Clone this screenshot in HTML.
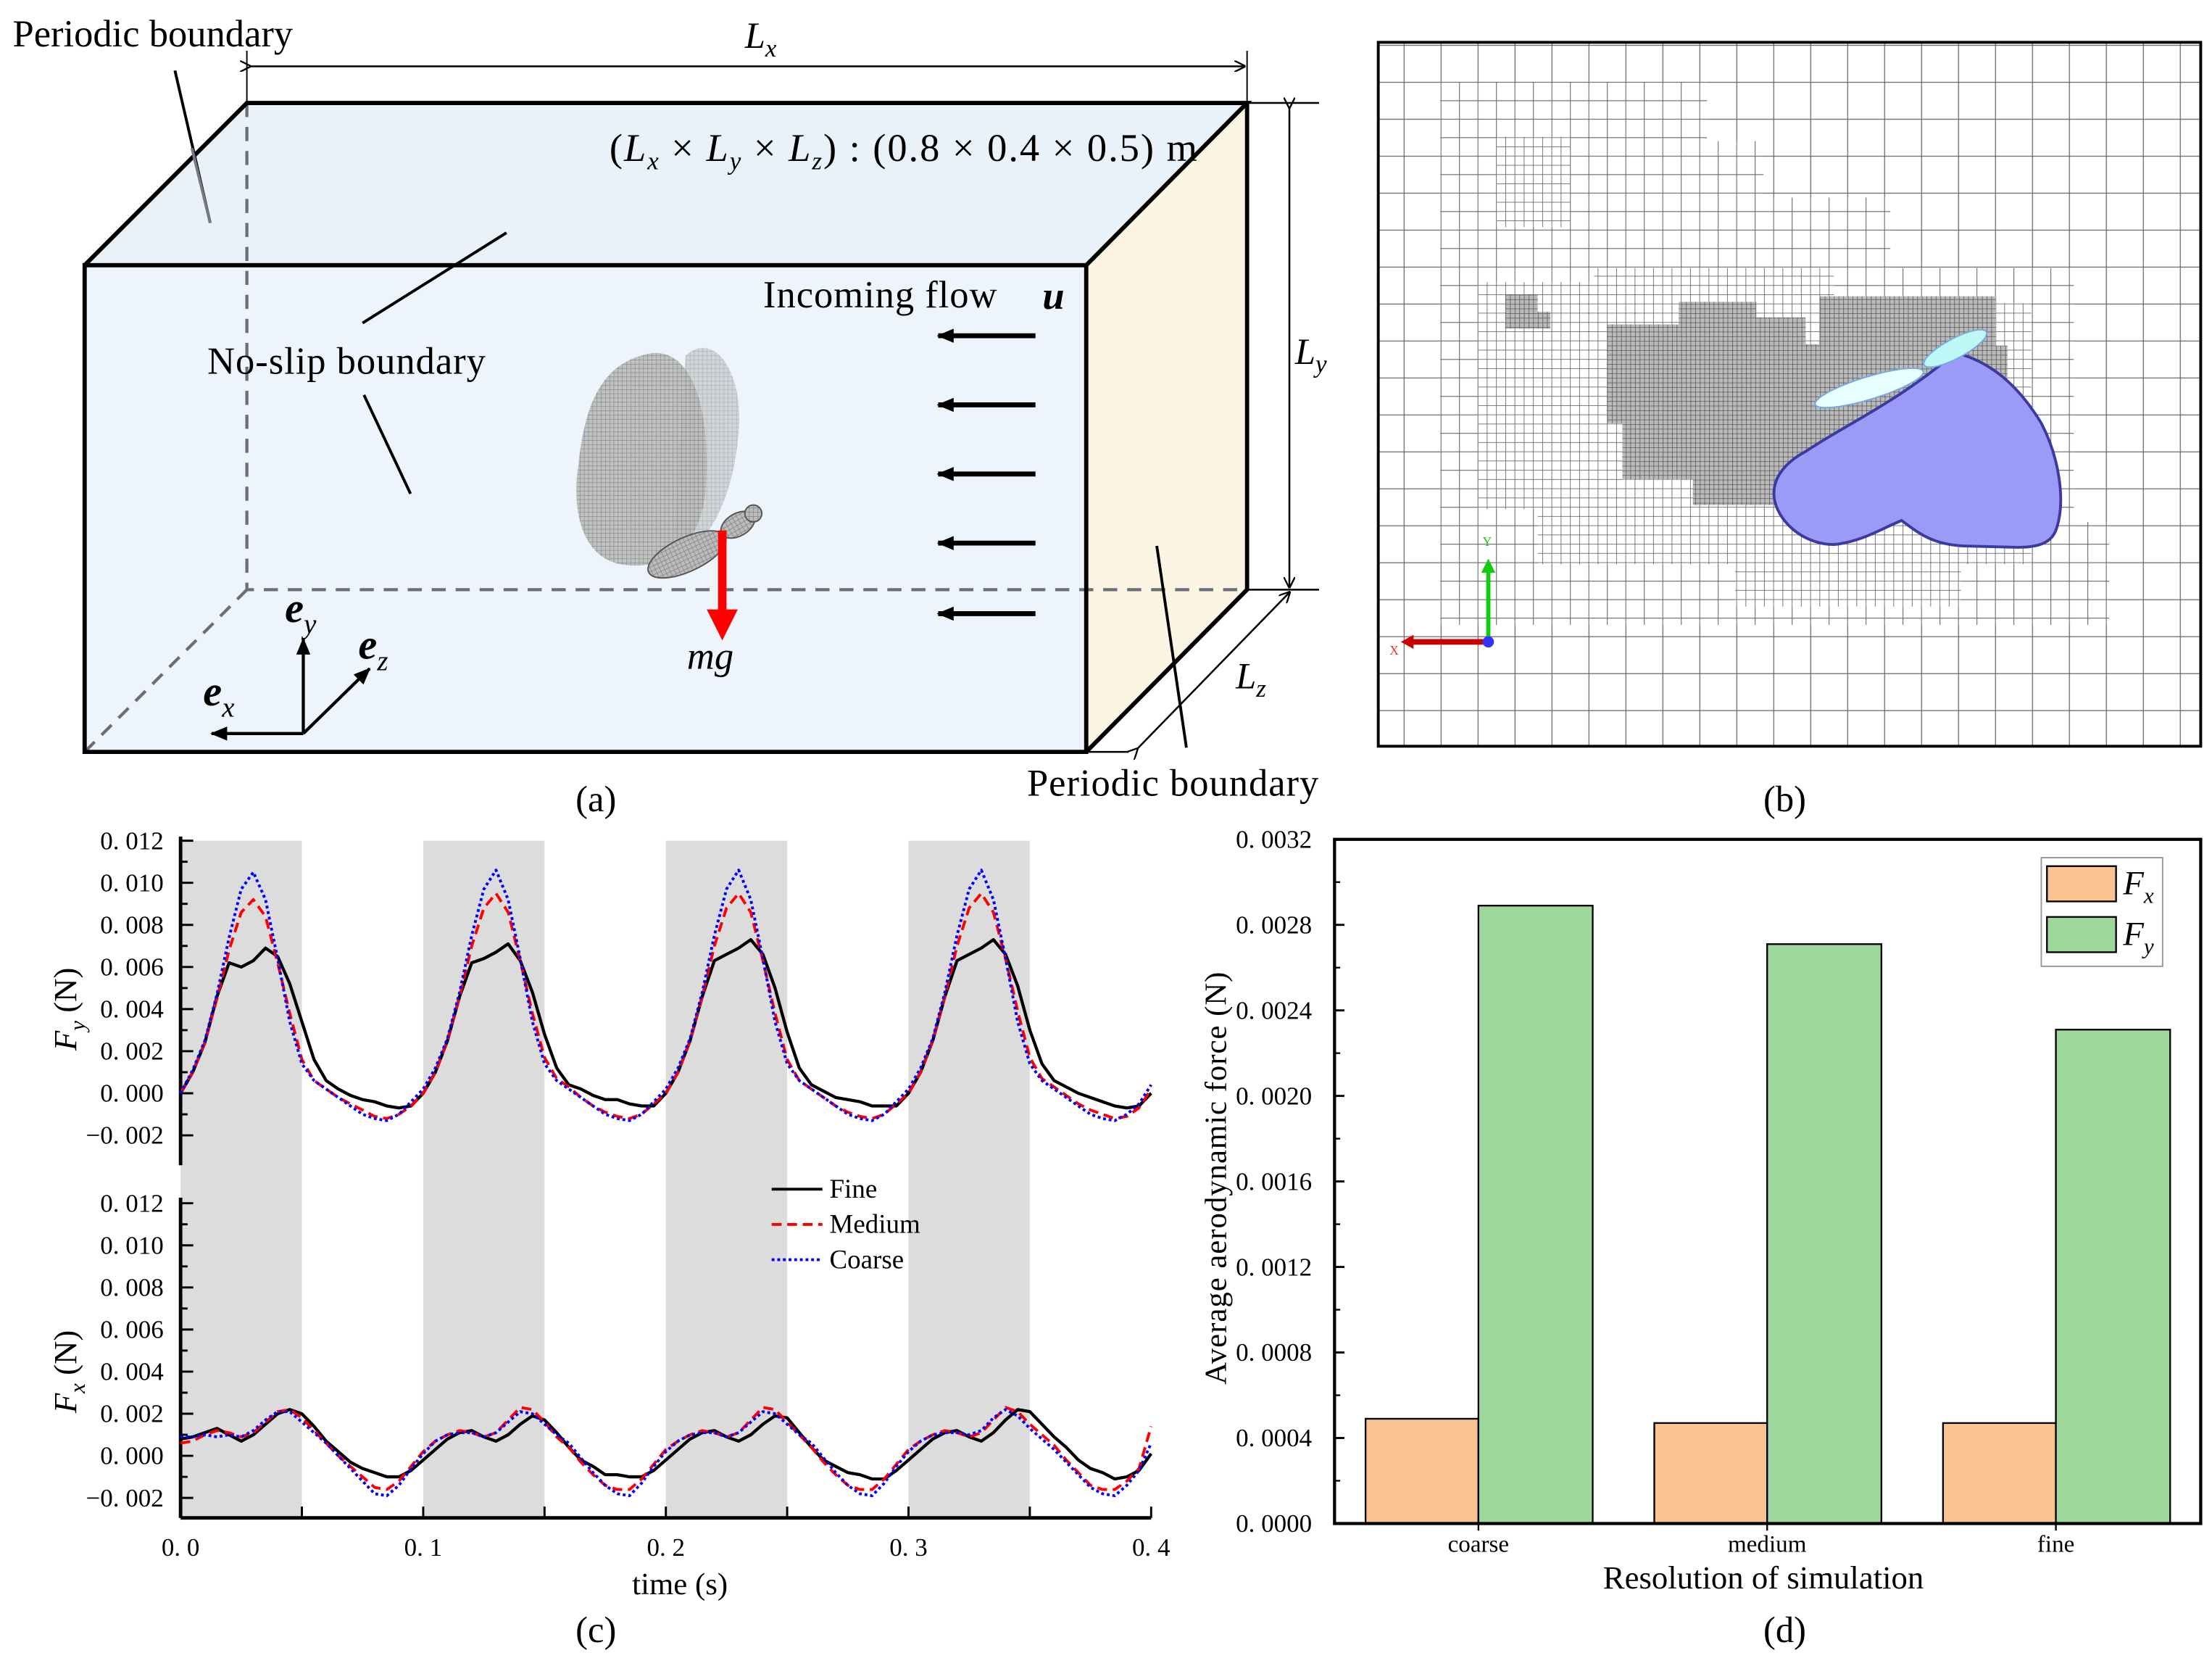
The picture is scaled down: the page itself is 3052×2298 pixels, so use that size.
<!DOCTYPE html>
<html><head><meta charset="utf-8"><style>
html,body{margin:0;padding:0;background:#fff}
svg{display:block}
text{font-family:"Liberation Serif",serif;fill:#000}
</style></head><body>
<svg id="fig" width="3052" height="2298" viewBox="0 0 1568 1181" preserveAspectRatio="none" xmlns="http://www.w3.org/2000/svg">
<defs>
<pattern id="g26" patternUnits="userSpaceOnUse" x="995" y="58" width="26.2" height="26.2"><path d="M0 0H26.2M0 0V26.2" stroke="#666" stroke-width="1.3" fill="none"/></pattern>
<pattern id="g13" patternUnits="userSpaceOnUse" x="995" y="58" width="13.1" height="13.1"><path d="M0 0H13.1M0 0V13.1" stroke="#666" stroke-width="1.1" fill="none"/></pattern>
<pattern id="g6" patternUnits="userSpaceOnUse" x="995" y="58" width="6.55" height="6.55"><path d="M0 0H6.55M0 0V6.55" stroke="#666" stroke-width="0.9" fill="none"/></pattern>
<pattern id="g3" patternUnits="userSpaceOnUse" x="995" y="58" width="3.28" height="3.28"><rect width="3.28" height="3.28" fill="#bbb"/><path d="M0 0H3.28M0 0V3.28" stroke="#555" stroke-width="0.8" fill="none"/></pattern>
<pattern id="bm" patternUnits="userSpaceOnUse" width="3" height="3"><rect width="3" height="3" fill="#bbb"/><path d="M0 0H3M0 0V3" stroke="#777" stroke-width="0.6"/></pattern>
<marker id="ah" markerWidth="8" markerHeight="8" refX="7" refY="4" orient="auto" markerUnits="userSpaceOnUse"><path d="M0 0L8 4L0 8" fill="none" stroke="#000" stroke-width="1.2"/></marker>
<marker id="ahf" markerWidth="12" markerHeight="10" refX="11" refY="5" orient="auto" markerUnits="userSpaceOnUse"><path d="M0 0L12 5L0 10Z" fill="#000"/></marker>
</defs>

<!-- Panel (a) -->
<g>
<polygon points="60,188 175,73 884,73 770,188" fill="#e9f1f9"/>
<rect x="60" y="188" width="710" height="345" fill="#edf4fb"/>
<polygon points="770,188 884,73 884,418 770,533" fill="#fdf5e4"/>
<path d="M175 73V418H884M60 533L175 418" stroke="#6a6f75" stroke-width="2.2" stroke-dasharray="10,7" fill="none"/>
<path d="M60 188H770V533H60ZM60 188L175 73H884L770 188M884 73V418L770 533" stroke="#000" stroke-width="3" fill="none" stroke-linejoin="miter"/>
<line x1="177" y1="47" x2="882" y2="47" stroke="#000" stroke-width="1.3" marker-end="url(#ah)" marker-start="url(#ah)"/>
<path d="M175 36V73M884 36V73" stroke="#000" stroke-width="1"/>
<path d="M884 73H935M884 418H935" stroke="#000" stroke-width="1.3"/>
<line x1="914" y1="76" x2="914" y2="416" stroke="#000" stroke-width="1.3" marker-end="url(#ah)" marker-start="url(#ah)"/>
<path d="M770 533H800" stroke="#000" stroke-width="1.3"/>
<line x1="806" y1="531" x2="914" y2="420" stroke="#000" stroke-width="1.3" marker-end="url(#ah)" marker-start="url(#ah)"/>
<text x="528" y="34" font-size="26" font-style="italic">L<tspan font-size="18" dy="6">x</tspan></text>
<text x="918" y="258" font-size="26" font-style="italic">L<tspan font-size="18" dy="6">y</tspan></text>
<text x="876" y="488" font-size="26" font-style="italic">L<tspan font-size="18" dy="6">z</tspan></text>
<text x="432" y="114" font-size="28" letter-spacing="1">(<tspan font-style="italic">L</tspan><tspan font-size="18" dy="6" font-style="italic">x</tspan><tspan dy="-6"> × </tspan><tspan font-style="italic">L</tspan><tspan font-size="18" dy="6" font-style="italic">y</tspan><tspan dy="-6"> × </tspan><tspan font-style="italic">L</tspan><tspan font-size="18" dy="6" font-style="italic">z</tspan><tspan dy="-6">) : (0.8 × 0.4 × 0.5) m</tspan></text>
<text x="9" y="33" font-size="27">Periodic boundary</text>
<line x1="124" y1="50" x2="149" y2="158" stroke="#000" stroke-width="2"/>
<line x1="136" y1="105" x2="149" y2="158" stroke="#778" stroke-width="2"/>
<text x="147" y="265" font-size="27" letter-spacing="0.5">No-slip boundary</text>
<line x1="257" y1="229" x2="359" y2="165" stroke="#000" stroke-width="2"/>
<line x1="258" y1="280" x2="291" y2="350" stroke="#000" stroke-width="2"/>
<text x="541" y="218" font-size="27" letter-spacing="0.5">Incoming flow</text>
<text x="739" y="219" font-size="28" font-weight="bold" font-style="italic">u</text>
<g stroke="#000" stroke-width="3.5">
<line x1="734" y1="238" x2="665" y2="238" marker-end="url(#ahf)"/>
<line x1="734" y1="287" x2="665" y2="287" marker-end="url(#ahf)"/>
<line x1="734" y1="336" x2="665" y2="336" marker-end="url(#ahf)"/>
<line x1="734" y1="385" x2="665" y2="385" marker-end="url(#ahf)"/>
<line x1="734" y1="435" x2="665" y2="435" marker-end="url(#ahf)"/>
</g>
<g>
<path d="M486 252C505 235 525 260 524 300C522 340 510 370 495 385L478 380Z" fill="url(#bm)" opacity="0.55"/>
<path d="M455 252C490 240 505 290 500 350C495 390 470 405 440 400C412 395 405 360 410 330C414 290 425 260 455 252Z" fill="url(#bm)" opacity="0.9"/>
<ellipse cx="487" cy="393" rx="30" ry="12" transform="rotate(-25 487 393)" fill="url(#bm)" stroke="#555" stroke-width="1"/>
<ellipse cx="523" cy="372" rx="13" ry="8" transform="rotate(-30 523 372)" fill="url(#bm)" stroke="#555" stroke-width="1"/>
<circle cx="534" cy="364" r="6" fill="url(#bm)" stroke="#555" stroke-width="1"/>
</g>
<line x1="512" y1="376" x2="512" y2="435" stroke="#f00" stroke-width="6"/>
<polygon points="501,432 523,432 512,454" fill="#f00"/>
<text x="487" y="474" font-size="27" font-style="italic">mg</text>
<g stroke="#000" stroke-width="2.2" fill="none">
<line x1="215" y1="520" x2="215" y2="453" marker-end="url(#ahf)"/>
<line x1="215" y1="520" x2="150" y2="520" marker-end="url(#ahf)"/>
<line x1="215" y1="520" x2="262" y2="474" marker-end="url(#ahf)"/>
</g>
<text x="202" y="441" font-size="30" font-weight="bold" font-style="italic">e<tspan font-size="20" font-weight="normal" dy="8">y</tspan></text>
<text x="254" y="467" font-size="30" font-weight="bold" font-style="italic">e<tspan font-size="20" font-weight="normal" dy="8">z</tspan></text>
<text x="144" y="500" font-size="30" font-weight="bold" font-style="italic">e<tspan font-size="20" font-weight="normal" dy="8">x</tspan></text>
<line x1="820" y1="387" x2="841" y2="530" stroke="#000" stroke-width="2"/>
<text x="728" y="564" font-size="27" letter-spacing="0.5">Periodic boundary</text>
</g>
<text x="408" y="575" font-size="26">(a)</text>

<!-- Panel (b) -->
<g>
<rect x="977" y="30" width="583" height="499" fill="#fff"/>
<rect x="977" y="30" width="583" height="499" fill="url(#g26)"/>
<path d="M1021 58H1210V100H1250V140H1340V190H1470V370H1495V443H1021Z" fill="#fff"/>
<path d="M1021 58H1210V100H1250V140H1340V190H1470V370H1495V443H1021Z" fill="url(#g13)"/>
<path d="M1061 97H1113V161H1061Z M1048 200H1130V190H1300V215H1440V400H1390V430H1230V400H1090V361H1048Z" fill="#fff"/>
<path d="M1061 97H1113V161H1061Z M1048 200H1130V190H1300V215H1440V400H1390V430H1230V400H1090V361H1048Z" fill="url(#g6)"/>
<path d="M1067 209H1090V221H1099V233H1067Z M1139 230H1190V214H1245V225H1280V244H1290V210H1415V245H1423V290H1350V340H1300V358H1200V340H1150V300H1139Z" fill="url(#g3)"/>
<path d="M1386 250C1410 256 1430 272 1447 300C1460 325 1464 355 1458 374C1455 384 1447 388 1430 388L1392 387C1370 386 1360 378 1348 369C1335 374 1320 384 1300 386C1280 386 1262 372 1258 355C1255 340 1265 328 1280 320C1310 300 1345 285 1386 250Z" fill="#9b9bf7" stroke="#3a3aa0" stroke-width="2"/>
<ellipse cx="1325" cy="275" rx="40" ry="8" transform="rotate(-17 1325 275)" fill="#e8ffff" stroke="#7ad" stroke-width="1"/>
<ellipse cx="1386" cy="247" rx="25" ry="7" transform="rotate(-28 1386 247)" fill="#bff7f7" stroke="#7ad" stroke-width="1"/>
<line x1="1055" y1="455" x2="1055" y2="404" stroke="#1c1" stroke-width="3"/>
<polygon points="1050,406 1060,406 1055,396" fill="#1c1"/>
<line x1="1055" y1="455" x2="1000" y2="455" stroke="#c00" stroke-width="4"/>
<polygon points="1002,450 1002,460 993,455" fill="#c00"/>
<circle cx="1055" cy="455" r="4" fill="#33f"/>
<text x="1051" y="387" font-size="9" style="fill:#1c1">Y</text>
<text x="985" y="464" font-size="9" style="fill:#e33">X</text>
<rect x="977" y="30" width="583" height="499" fill="none" stroke="#000" stroke-width="2"/>
</g>
<text x="1250" y="575" font-size="26">(b)</text>

<g id="chartC"></g>
<text x="408" y="1164" font-size="26">(c)</text>
<g id="chartD"></g>
<text x="1250" y="1164" font-size="26">(d)</text>
</svg>
<script>
// ---------- chart (c) data ----------
const tValues = [0,0.005,0.01,0.015,0.02,0.025,0.03,0.035,0.04,0.045,0.05,0.055,0.06,0.065,0.07,0.075,0.08,0.085,0.09,0.095,
0.1,0.105,0.11,0.115,0.12,0.125,0.13,0.135,0.14,0.145,0.15,0.155,0.16,0.165,0.17,0.175,0.18,0.185,0.19,0.195,
0.2,0.205,0.21,0.215,0.22,0.225,0.23,0.235,0.24,0.245,0.25,0.255,0.26,0.265,0.27,0.275,0.28,0.285,0.29,0.295,
0.3,0.305,0.31,0.315,0.32,0.325,0.33,0.335,0.34,0.345,0.35,0.355,0.36,0.365,0.37,0.375,0.38,0.385,0.39,0.395,0.4];
const fyFine = [0.0000,0.0010,0.0024,0.0046,0.0062,0.0060,0.0063,0.0069,0.0065,0.0052,0.0034,0.0016,0.0006,0.0002,-0.0001,-0.0003,-0.0004,-0.0006,-0.0007,-0.0006,
0.0000,0.0010,0.0025,0.0046,0.0062,0.0064,0.0067,0.0071,0.0063,0.0048,0.0028,0.0012,0.0004,0.0002,-0.0001,-0.0003,-0.0003,-0.0005,-0.0006,-0.0006,
0.0000,0.0010,0.0025,0.0046,0.0063,0.0066,0.0069,0.0073,0.0066,0.0050,0.0029,0.0012,0.0004,0.0001,-0.0002,-0.0003,-0.0004,-0.0006,-0.0006,-0.0006,
0.0000,0.0010,0.0025,0.0046,0.0063,0.0066,0.0069,0.0073,0.0066,0.0051,0.0030,0.0014,0.0006,0.0003,0.0000,-0.0002,-0.0004,-0.0006,-0.0007,-0.0006,0.0000];
const fyMedium = [0.0000,0.0010,0.0024,0.0045,0.0068,0.0086,0.0092,0.0084,0.0062,0.0038,0.0016,0.0006,0.0002,-0.0002,-0.0005,-0.0008,-0.0011,-0.0012,-0.0010,-0.0006,
0.0000,0.0010,0.0025,0.0046,0.0070,0.0088,0.0095,0.0086,0.0063,0.0038,0.0017,0.0007,0.0003,-0.0002,-0.0006,-0.0009,-0.0011,-0.0012,-0.0010,-0.0005,
0.0000,0.0010,0.0025,0.0046,0.0070,0.0088,0.0095,0.0086,0.0063,0.0038,0.0016,0.0006,0.0002,-0.0002,-0.0006,-0.0009,-0.0011,-0.0012,-0.0010,-0.0005,
0.0000,0.0010,0.0025,0.0046,0.0070,0.0088,0.0095,0.0086,0.0064,0.0039,0.0017,0.0007,0.0003,-0.0001,-0.0005,-0.0008,-0.0010,-0.0012,-0.0011,-0.0007,0.0002];
const fyCoarse = [0.0000,0.0011,0.0025,0.0047,0.0074,0.0097,0.0105,0.0092,0.0064,0.0034,0.0014,0.0006,0.0002,-0.0002,-0.0006,-0.0010,-0.0012,-0.0013,-0.0010,-0.0004,
0.0002,0.0012,0.0026,0.0048,0.0075,0.0097,0.0106,0.0092,0.0064,0.0034,0.0014,0.0006,0.0002,-0.0002,-0.0006,-0.0010,-0.0012,-0.0013,-0.0010,-0.0004,
0.0002,0.0012,0.0026,0.0048,0.0075,0.0097,0.0106,0.0092,0.0064,0.0034,0.0014,0.0006,0.0002,-0.0002,-0.0006,-0.0010,-0.0012,-0.0013,-0.0010,-0.0004,
0.0002,0.0012,0.0026,0.0048,0.0075,0.0097,0.0106,0.0092,0.0064,0.0034,0.0014,0.0006,0.0002,-0.0002,-0.0006,-0.0010,-0.0012,-0.0013,-0.0010,-0.0005,0.0004];
const fxFine = [0.0008,0.0009,0.0011,0.0013,0.0010,0.0007,0.0010,0.0015,0.0020,0.0022,0.0020,0.0014,0.0007,0.0002,-0.0003,-0.0006,-0.0008,-0.0010,-0.0010,-0.0007,
-0.0002,0.0003,0.0008,0.0011,0.0012,0.0009,0.0007,0.0010,0.0015,0.0019,0.0017,0.0011,0.0004,-0.0002,-0.0005,-0.0009,-0.0009,-0.0010,-0.0010,-0.0007,
-0.0002,0.0003,0.0008,0.0011,0.0012,0.0009,0.0007,0.0010,0.0015,0.0019,0.0018,0.0011,0.0004,-0.0002,-0.0005,-0.0008,-0.0009,-0.0011,-0.0011,-0.0007,
-0.0002,0.0003,0.0008,0.0011,0.0012,0.0009,0.0007,0.0011,0.0017,0.0022,0.0021,0.0015,0.0009,0.0004,-0.0002,-0.0006,-0.0008,-0.0011,-0.0010,-0.0007,0.0001];
const fxMedium = [0.0006,0.0007,0.0010,0.0012,0.0011,0.0009,0.0011,0.0016,0.0021,0.0022,0.0018,0.0012,0.0006,0.0000,-0.0005,-0.0010,-0.0015,-0.0016,-0.0012,-0.0005,
0.0002,0.0007,0.0010,0.0012,0.0011,0.0009,0.0011,0.0017,0.0023,0.0022,0.0016,0.0009,0.0004,-0.0003,-0.0009,-0.0014,-0.0016,-0.0016,-0.0011,-0.0004,
0.0003,0.0007,0.0010,0.0012,0.0011,0.0009,0.0011,0.0017,0.0023,0.0022,0.0016,0.0010,0.0004,-0.0003,-0.0009,-0.0014,-0.0016,-0.0016,-0.0011,-0.0004,
0.0003,0.0007,0.0010,0.0012,0.0011,0.0009,0.0011,0.0017,0.0023,0.0021,0.0015,0.0010,0.0005,-0.0002,-0.0008,-0.0014,-0.0016,-0.0016,-0.0012,-0.0006,0.0014];
const fxCoarse = [0.0009,0.0009,0.0010,0.0009,0.0010,0.0009,0.0012,0.0017,0.0021,0.0021,0.0016,0.0011,0.0006,0.0000,-0.0006,-0.0012,-0.0018,-0.0019,-0.0014,-0.0006,
0.0001,0.0007,0.0010,0.0011,0.0011,0.0009,0.0011,0.0016,0.0021,0.0020,0.0015,0.0010,0.0006,-0.0001,-0.0008,-0.0014,-0.0018,-0.0019,-0.0013,-0.0005,
0.0002,0.0007,0.0010,0.0011,0.0011,0.0009,0.0011,0.0016,0.0021,0.0020,0.0015,0.0010,0.0006,-0.0001,-0.0008,-0.0014,-0.0018,-0.0019,-0.0013,-0.0005,
0.0002,0.0007,0.0010,0.0011,0.0011,0.0010,0.0012,0.0018,0.0022,0.0019,0.0013,0.0008,0.0003,-0.0003,-0.0009,-0.0015,-0.0018,-0.0019,-0.0014,-0.0007,0.0006];
const yTickValues = [-0.002,0,0.002,0.004,0.006,0.008,0.010,0.012];
const yTickLabels = ["\u22120. 002","0. 000","0. 002","0. 004","0. 006","0. 008","0. 010","0. 012"];
const xTickValues = [0,0.1,0.2,0.3,0.4];
const xTickLabels = ["0. 0","0. 1","0. 2","0. 3","0. 4"];
const shadeStarts = [0,0.1,0.2,0.3];
const legendNames = ["Fine","Medium","Coarse"];

// ---------- chart (d) data ----------
const categories = ["coarse","medium","fine"];
const fxBars = [0.00049,0.00047,0.00047];
const fyBars = [0.00289,0.00271,0.00231];
const dTicks = [0,0.0004,0.0008,0.0012,0.0016,0.0020,0.0024,0.0028,0.0032];
const dTickLabels = ["0. 0000","0. 0004","0. 0008","0. 0012","0. 0016","0. 0020","0. 0024","0. 0028","0. 0032"];

const NS="http://www.w3.org/2000/svg";
function mk(parent,tag,attrs,txt){const e=document.createElementNS(NS,tag);for(const k in attrs)e.setAttribute(k,attrs[k]);if(txt!==undefined)e.textContent=txt;parent.appendChild(e);return e;}

// chart c
(function(){
const g=document.getElementById('chartC');
const X0=128,X1=816;
const xs=t=>X0+(t/0.4)*(X1-X0);
const yTop=v=>775-v*14920;
const yBot=v=>1032-v*14920;
shadeStarts.forEach(s=>{
  const r=mk(g,'rect',{x:xs(s),y:596,width:xs(s+0.05)-xs(s),height:480,fill:'#dcdcdc'});
  
  
});
function panel(yf,yAxTop,yAxBot,series,label,lblName){
  const ax=mk(g,'line',{x1:X0,y1:yAxTop-3,x2:X0,y2:yAxBot,stroke:'#000','stroke-width':2.5});
  
  
  for(let v=-0.002;v<=0.01201;v+=0.001){
    const major=Math.round(v*1000)%2===0;
    mk(g,'line',{x1:X0,y1:yf(v),x2:X0+(major?9:5),y2:yf(v),stroke:'#000','stroke-width':1.5});
  }
  yTickValues.forEach((v,i)=>{
    const t=mk(g,'text',{x:X0-12,y:yf(v)+6,'text-anchor':'end','font-size':18},yTickLabels[i]);
    
    
  });
  const colors=['#000','#f00','#00f'],dash=['none','7,4','2,2'],w=[2.2,2,2];
  series.forEach((arr,si)=>{
    const d=arr.map((v,i)=>(i?'L':'M')+xs(tValues[i]).toFixed(1)+' '+yf(v).toFixed(1)).join('');
    const p=mk(g,'path',{d:d,fill:'none',stroke:colors[si],'stroke-width':w[si],'stroke-dasharray':dash[si],'stroke-linejoin':'round'});
    
    
  });
  const yl=mk(g,'text',{x:0,y:0,'font-size':23,transform:`translate(54 ${yf(0.004)}) rotate(-90)`,'text-anchor':'middle'});
  
  
  yl.innerHTML='<tspan font-style="italic">F</tspan><tspan font-style="italic" font-size="16" dy="6">'+label+'</tspan><tspan dy="-6"> (N)</tspan>';
}
panel(yTop,596,826,[fyFine,fyMedium,fyCoarse],'y','fy');
panel(yBot,852,1076,[fxFine,fxMedium,fxCoarse],'x','fx');
const xa=mk(g,'line',{x1:X0,y1:1076,x2:X1,y2:1076,stroke:'#000','stroke-width':2.5});


for(let t=0;t<=0.4001;t+=0.05){mk(g,'line',{x1:xs(t),y1:1076,x2:xs(t),y2:1068,stroke:'#000','stroke-width':1.5});}
xTickValues.forEach((v,i)=>{
  const t=mk(g,'text',{x:xs(v),y:1103,'text-anchor':'middle','font-size':18},xTickLabels[i]);
  
  
});
const xt=mk(g,'text',{x:482,y:1130,'text-anchor':'middle','font-size':22},'time (s)');


const colors=['#000','#f00','#00f'],dash=['none','7,4','2,2'];
legendNames.forEach((n,i)=>{
  const y=843+i*25;
  const l=mk(g,'line',{x1:547,y1:y,x2:583,y2:y,stroke:colors[i],'stroke-width':2,'stroke-dasharray':dash[i]});
  
  
  const t=mk(g,'text',{x:588,y:y+6,'font-size':19},n);
  
  
});
})();

// chart d
(function(){
const g=document.getElementById('chartD');
const L=946,R=1560,T=595,B=1080;
const ys=v=>B-(v/0.0032)*(B-T);
const gw=(R-L)/3;
categories.forEach((c,i)=>{
  const gx=L+gw*i;
  const b1=mk(g,'rect',{x:gx+22,y:ys(fxBars[i]),width:80,height:B-ys(fxBars[i]),fill:'#f9c48f',stroke:'#000','stroke-width':1.2});
  
  
  const b2=mk(g,'rect',{x:gx+102,y:ys(fyBars[i]),width:81,height:B-ys(fyBars[i]),fill:'#9ed79b',stroke:'#000','stroke-width':1.2});
  
  
  const t=mk(g,'text',{x:gx+102,y:1100,'text-anchor':'middle','font-size':17},c);
  
  
  mk(g,'line',{x1:gx+102,y1:B,x2:gx+102,y2:B+5,stroke:'#000','stroke-width':1.2});
});
const fr=mk(g,'rect',{x:L,y:T,width:R-L,height:B-T,fill:'none',stroke:'#000','stroke-width':2.2});


dTicks.forEach((v,i)=>{
  mk(g,'line',{x1:L,y1:ys(v),x2:L+7,y2:ys(v),stroke:'#000','stroke-width':1.5});
  if(i<dTicks.length-1) mk(g,'line',{x1:L,y1:(ys(v)+ys(dTicks[i+1]))/2,x2:L+4,y2:(ys(v)+ys(dTicks[i+1]))/2,stroke:'#000','stroke-width':1.2});
  const t=mk(g,'text',{x:876,y:ys(v)+6,'font-size':18},dTickLabels[i]);
  
  
});
const yt=mk(g,'text',{x:0,y:0,'font-size':22,transform:'translate(869 835) rotate(-90)','text-anchor':'middle','letter-spacing':'0.5'},'Average aerodynamic force (N)');


const xt=mk(g,'text',{x:1250,y:1126,'text-anchor':'middle','font-size':23},'Resolution of simulation');


const lb=mk(g,'rect',{x:1447,y:608,width:86,height:77,fill:'#fff',stroke:'#999','stroke-width':1});


[['#f9c48f','x',614],['#9ed79b','y',650]].forEach(([c,s,y])=>{
  const r=mk(g,'rect',{x:1451,y:y,width:49,height:25,fill:c,stroke:'#000','stroke-width':1.2});
  
  
  const t=mk(g,'text',{x:1505,y:y+20,'font-size':24});
  
  
  t.innerHTML='<tspan font-style="italic">F</tspan><tspan font-style="italic" font-size="16" dy="6">'+s+'</tspan>';
});
})();
</script>
</body></html>
